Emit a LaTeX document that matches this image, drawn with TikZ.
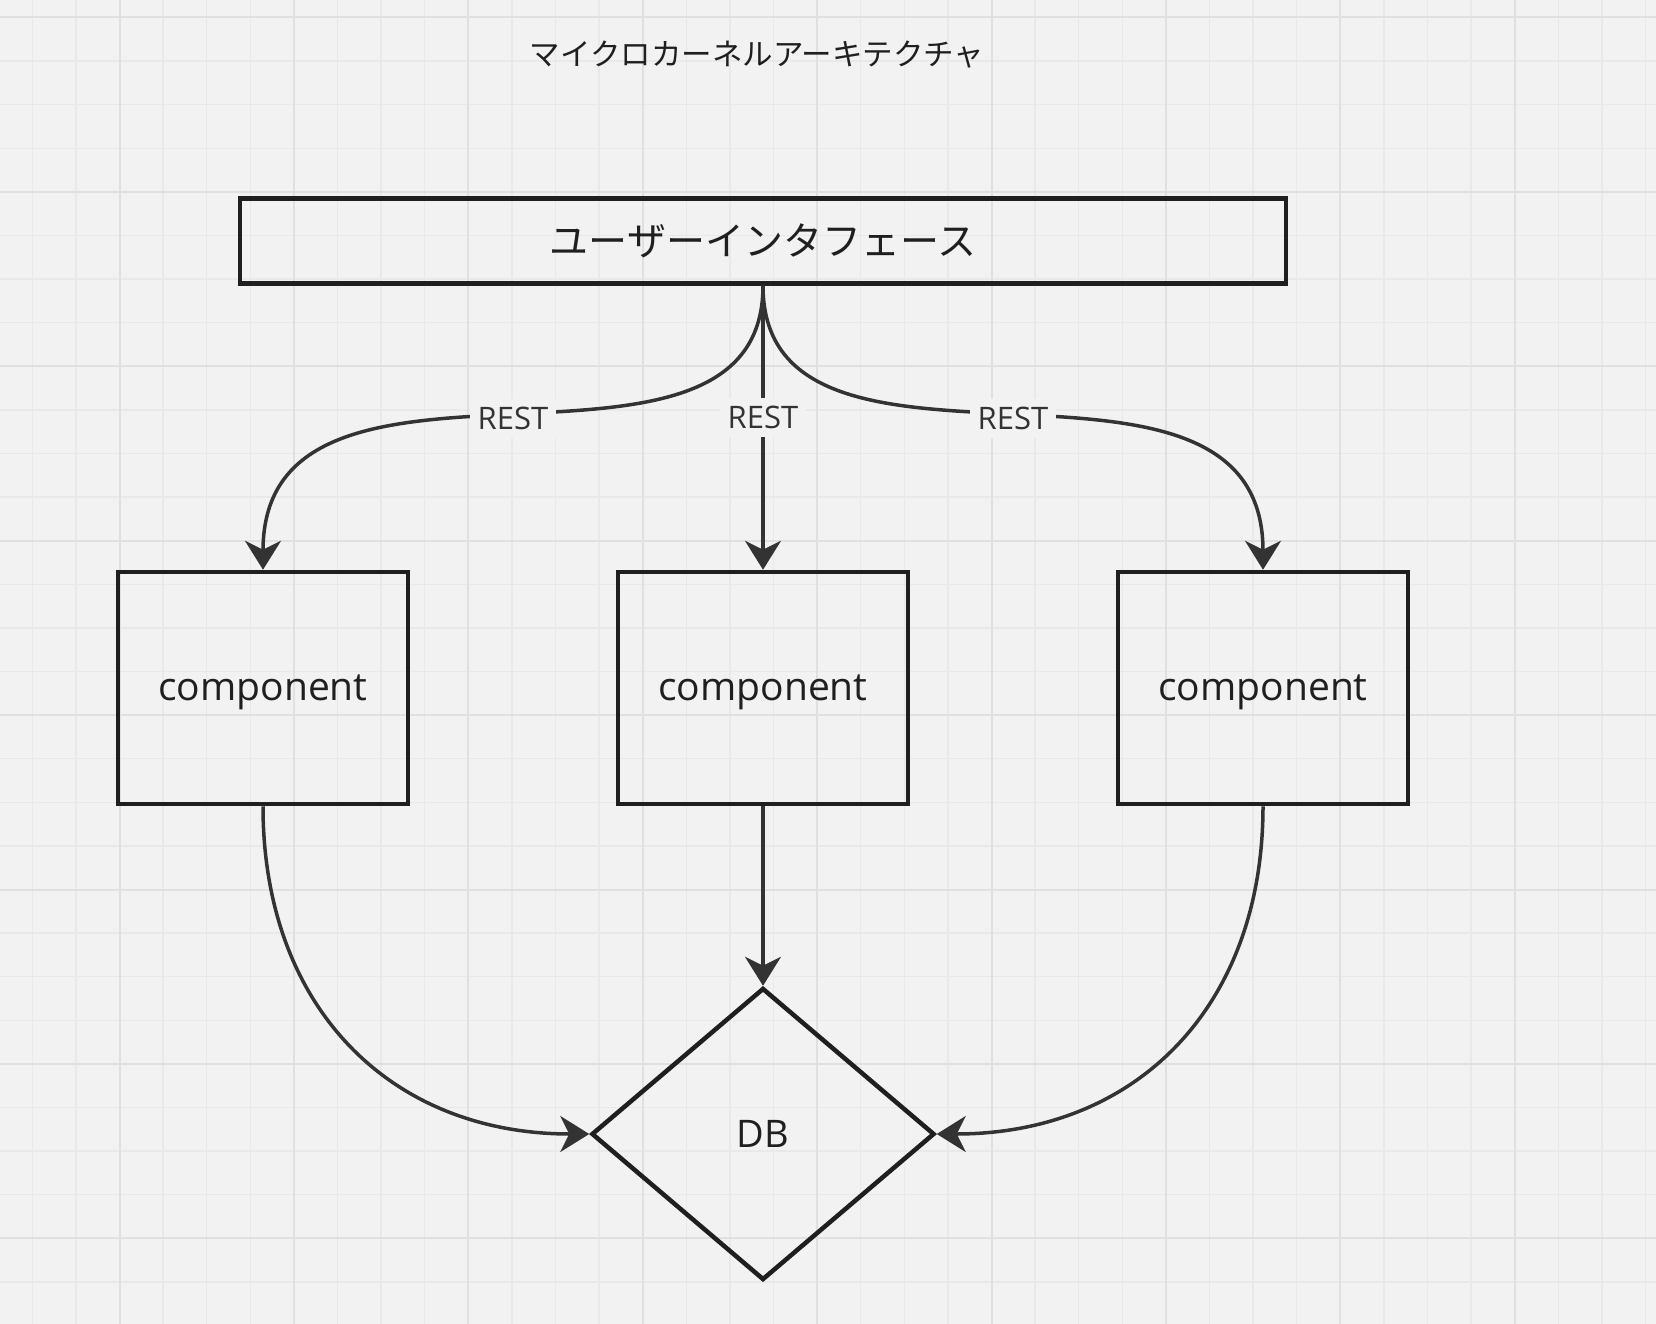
\documentclass[tikz,border=0pt]{standalone}
\usepackage{fontspec}
\setmainfont{Open Sans}
\newfontfamily\jpfont{Noto Sans CJK JP}
\usetikzlibrary{arrows.meta,shapes.geometric,calc}

\definecolor{paper}{HTML}{F2F2F2}
\definecolor{gridminor}{HTML}{E9E9E9}
\definecolor{gridmajor}{HTML}{E0E0E0}
\definecolor{ink}{HTML}{1F1F1F}
\definecolor{wire}{HTML}{333333}

\tikzset{
  box/.style={draw=ink, line width=4.5pt, inner sep=0pt, text=ink, font=\fontsize{39}{47}\selectfont},
  compbox/.style={box, minimum width=290pt, minimum height=232pt, text height=24pt, text depth=0pt},
  dbshape/.style={box, diamond, minimum width=343pt, minimum height=292pt, font=\fontsize{38}{46}\selectfont},
  conn/.style={draw=wire, line width=3.5pt, -{Stealth[length=29pt,width=36pt,inset=9pt]}},
  lbl/.style={fill=paper, inner sep=8pt, text=wire, font=\fontsize{31}{38}\selectfont},
}

\begin{document}
\begin{tikzpicture}[x=1pt,y=-1pt]
      \def\cell{43.6}
      \def\pagew{1656}
      \def\pageh{1324}

      \useasboundingbox (0,0) rectangle (\pagew,\pageh);
      \fill[paper] (0,0) rectangle (\pagew,\pageh);
      % grid
      \foreach \i in {0,...,37} {
        \draw[gridminor, line width=1.5pt] ({32.3+\cell*\i},0) -- ({32.3+\cell*\i},\pageh);
      }
      \foreach \i in {0,...,30} {
        \draw[gridminor, line width=1.5pt] (0,{17.5+\cell*\i}) -- (\pagew,{17.5+\cell*\i});
      }
      \foreach \i in {0,...,8} {
        \draw[gridmajor, line width=2pt] ({119.5+4*\cell*\i},0) -- ({119.5+4*\cell*\i},\pageh);
      }
      \foreach \i in {0,...,7} {
        \draw[gridmajor, line width=2pt] (0,{17.5+4*\cell*\i}) -- (\pagew,{17.5+4*\cell*\i});
      }

      \node[text=ink, font=\jpfont\fontsize{30.5}{37}\selectfont] (title) at (757,55) {マイクロカーネルアーキテクチャ};
      \node[box, minimum width=1046pt, minimum height=85pt, font=\jpfont\fontsize{39}{47}\selectfont] (ui) at (763,241) {ユーザーインタフェース};

      \foreach \n/\x in {1/263,2/763,3/1263} {
        \node[compbox] (comp\n) at (\x,688) {component};
      }
      \node[dbshape] (db) at (763,1134) {DB};

      \draw[conn] (ui.south) .. controls +(0,235) and +(0,-265) .. (comp1.north) node[lbl, pos=0.5, yshift=-2pt] {REST};
      \draw[conn] (ui.south) -- (comp2.north) node[lbl, pos=0.463] {REST};
      \draw[conn] (ui.south) .. controls +(0,235) and +(0,-265) .. (comp3.north) node[lbl, pos=0.5, yshift=-2pt] {REST};

      \draw[conn] (comp1.south) .. controls +(0,200) and +(-200,0) .. (db.west);
      \draw[conn] (comp2.south) -- (db.north);
      \draw[conn] (comp3.south) .. controls +(0,200) and +(200,0) .. (db.east);
    \end{tikzpicture}
\end{document}
